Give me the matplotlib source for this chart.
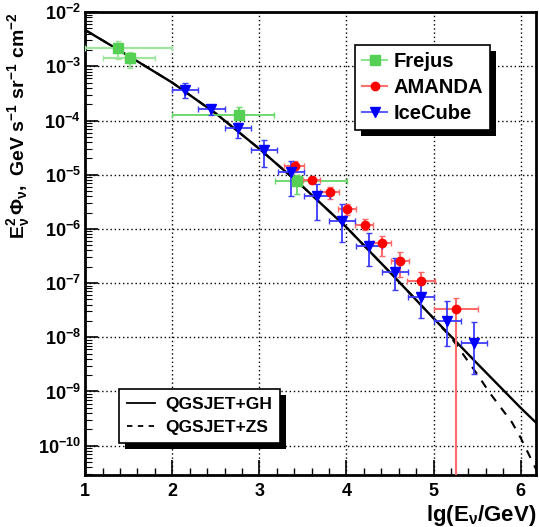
import matplotlib
matplotlib.use('Agg')
import matplotlib.pyplot as plt
from matplotlib.lines import Line2D
from matplotlib.patches import Rectangle
from matplotlib.transforms import IdentityTransform
from matplotlib.ticker import MultipleLocator, FixedLocator, FixedFormatter, LogLocator, NullFormatter
import numpy as np

# Frejus
frejus_x = [1.38, 1.51, 2.77, 3.43]
frejus_xlo = [1.00, 1.21, 2.00, 3.18]
frejus_xhi = [2.00, 1.80, 3.17, 4.01]
frejus_y = [2.19e-3, 1.45e-3, 1.29e-4, 7.6e-6]
frejus_ylo = [1.35e-3, 9.3e-4, 1.10e-4, 4.4e-6]
frejus_yhi = [2.88e-3, 1.82e-3, 1.78e-4, 9.8e-6]

# AMANDA
amanda_x = [3.41, 3.61, 3.81, 4.01, 4.21, 4.41, 4.61, 4.86, 5.26]
amanda_xlo = [3.28, 3.50, 3.70, 3.90, 4.10, 4.31, 4.51, 4.70, 5.00]
amanda_xhi = [3.51, 3.70, 3.91, 4.11, 4.31, 4.51, 4.72, 5.02, 5.51]
amanda_y = [1.45e-5, 8.1e-6, 4.8e-6, 2.3e-6, 1.2e-6, 5.6e-7, 2.6e-7, 1.1e-7, 3.3e-8]
amanda_ylo = [1.12e-5, 7.1e-6, 3.6e-6, 1.78e-6, 9.5e-7, 3.2e-7, 1.32e-7, 6.0e-8, 1e-14]
amanda_yhi = [1.78e-5, 9.1e-6, 5.9e-6, 2.9e-6, 1.51e-6, 7.4e-7, 3.7e-7, 1.58e-7, 5.4e-8]

# IceCube
icecube_x = [2.15, 2.45, 2.75, 3.05, 3.36, 3.66, 3.95, 4.26, 4.56, 4.86, 5.16, 5.46]
icecube_xerr = [0.15] * 12
icecube_y = [3.7e-4, 1.62e-4, 7.2e-5, 2.8e-5, 1.12e-5, 4.1e-6, 1.41e-6, 4.9e-7, 1.62e-7, 5.5e-8, 2.0e-8, 7.9e-9]
icecube_ylo = [2.57e-4, 1.26e-4, 4.7e-5, 1.41e-5, 4.1e-6, 1.45e-6, 5.8e-7, 2.1e-7, 7.4e-8, 2.3e-8, 6.9e-9, 2.1e-9]
icecube_yhi = [4.9e-4, 1.9e-4, 9.1e-5, 4.3e-5, 1.78e-5, 6.8e-6, 2.9e-6, 8.3e-7, 2.95e-7, 1.15e-7, 4.6e-8, 1.95e-8]

# models
gh_x = [1.0, 1.5, 2.0, 2.5, 3.0, 3.5, 4.0, 4.5, 5.0, 5.5, 6.0, 6.2]
gh_y = [4.68e-3, 1.55e-3, 5.0e-4, 1.35e-4, 3.0e-5, 6.0e-6, 1.07e-6, 1.58e-7, 2.24e-8, 3.3e-9, 5.0e-10, 2.45e-10]
zs_x = [1.0, 1.5, 2.0, 2.5, 3.0, 3.5, 4.0, 4.5, 5.0, 5.2, 5.35, 5.5, 5.65, 5.9, 6.0, 6.1, 6.2]
zs_y = [4.68e-3, 1.55e-3, 5.0e-4, 1.35e-4, 3.0e-5, 6.0e-6, 1.07e-6, 1.58e-7, 2.24e-8,
        1.0e-8, 4.6e-9, 2.1e-9, 9.2e-10, 2.7e-10, 1.4e-10, 6.6e-11, 3.1e-11]

ytick_vals = [1e-10, 1e-9, 1e-8, 1e-7, 1e-6, 1e-5, 1e-4, 1e-3, 1e-2]
ytick_labels = [r'$\mathbf{10^{-10}}$', r'$\mathbf{10^{-9}}$', r'$\mathbf{10^{-8}}$', r'$\mathbf{10^{-7}}$',
                r'$\mathbf{10^{-6}}$', r'$\mathbf{10^{-5}}$', r'$\mathbf{10^{-4}}$', r'$\mathbf{10^{-3}}$',
                r'$\mathbf{10^{-2}}$']

plt.rcParams['font.family'] = ['Liberation Sans', 'DejaVu Sans']
plt.rcParams['font.weight'] = 'bold'
plt.rcParams['mathtext.fontset'] = 'custom'
plt.rcParams['mathtext.rm'] = 'Liberation Sans:bold'
plt.rcParams['mathtext.bf'] = 'Liberation Sans:bold'
plt.rcParams['mathtext.it'] = 'Liberation Sans:bold:italic'


def asym(v, lo, hi):
	v = np.array(v)
	return [v - np.array(lo), np.array(hi) - v]


def main():
	fig = plt.figure(figsize=(5.39, 5.27), dpi=100)
	ax = fig.add_axes([0.158, 0.099, 0.837, 0.878])

	green = '#55d055'
	red = '#ff0000'
	blue = '#0000ff'

	# model lines
	ax.plot(zs_x, zs_y, color='k', lw=1.5, ls=(0, (4, 4)), zorder=3)
	ax.plot(gh_x, gh_y, color='k', lw=1.7, zorder=3)

	# Frejus (first two drawn lighter)
	fx = np.array(frejus_x)
	xe = asym(frejus_x, frejus_xlo, frejus_xhi)
	ye = asym(frejus_y, frejus_ylo, frejus_yhi)
	ax.errorbar(fx[:2], frejus_y[:2], xerr=[xe[0][:2], xe[1][:2]], yerr=[ye[0][:2], ye[1][:2]],
				fmt='s', color=green, ecolor='#9fe59f', ms=6.5, elinewidth=1.6, capsize=2, zorder=4)
	ax.errorbar(fx[2:], frejus_y[2:], xerr=[xe[0][2:], xe[1][2:]], yerr=[ye[0][2:], ye[1][2:]],
				fmt='s', color=green, ecolor='#66d866', ms=6.5, elinewidth=1.3, capsize=2, zorder=4)

	# AMANDA
	ax.errorbar(amanda_x, amanda_y, xerr=asym(amanda_x, amanda_xlo, amanda_xhi),
				yerr=asym(amanda_y, amanda_ylo, amanda_yhi),
				fmt='o', color=red, ecolor='#ff6a6a', ms=6, elinewidth=1.5, capsize=2, zorder=4)

	# IceCube
	ax.errorbar(icecube_x, icecube_y, xerr=icecube_xerr, yerr=asym(icecube_y, icecube_ylo, icecube_yhi),
				fmt='v', color=blue, ecolor='#3c3cff', ms=6.5, elinewidth=1.3, capsize=2, zorder=4)

	ax.set_yscale('log')
	ax.set_xlim(1, 6.18)
	ax.set_ylim(2.9e-11, 1e-2)

	ax.xaxis.set_major_locator(FixedLocator([1, 2, 3, 4, 5, 6]))
	ax.xaxis.set_minor_locator(MultipleLocator(0.2))
	ax.set_xticklabels(['1', '2', '3', '4', '5', '6'], fontsize=13, fontweight='bold')
	ax.yaxis.set_major_locator(FixedLocator(ytick_vals))
	ax.yaxis.set_major_formatter(FixedFormatter(ytick_labels))
	ax.yaxis.set_minor_locator(LogLocator(base=10, subs=np.arange(2, 10), numticks=30))
	ax.yaxis.set_minor_formatter(NullFormatter())
	ax.tick_params(axis='y', labelsize=13)

	ax.tick_params(which='both', direction='in', top=False, right=False, color='k')
	ax.tick_params(axis='x', which='major', length=11, width=1.2, pad=6)
	ax.tick_params(axis='x', which='minor', length=5, width=1.0)
	ax.tick_params(axis='y', which='major', length=9, width=1.2, pad=3)
	ax.tick_params(axis='y', which='minor', length=5, width=0.8)

	for s in ax.spines.values():
		s.set_linewidth(2)

	ax.grid(True, which='major', ls=(0, (1, 2)), color='k', lw=1.0)

	ax.set_xlabel(r'$\mathbf{lg(E_{\nu}/GeV)}$', fontsize=16, loc='right', labelpad=2)
	ax.set_ylabel(r'$\mathbf{E_{\nu}^{2}\,\Phi_{\nu},\ GeV\ s^{-1}\ sr^{-1}\ cm^{-2}}$', fontsize=14, loc='top')
	ax.yaxis.set_label_coords(-0.118, 1.0)

	# legends
	h1 = [Line2D([], [], color='#8fe48f', lw=1.5, marker='s', mfc=green, mec=green, ms=6.5),
		  Line2D([], [], color='#ff7070', lw=1.5, marker='o', mfc=red, mec=red, ms=6),
		  Line2D([], [], color='#6060ff', lw=1.5, marker='v', mfc=blue, mec=blue, ms=6.5)]
	leg1 = ax.legend(h1, ['Frejus', 'AMANDA', 'IceCube'], loc='upper left',
					 bbox_to_anchor=(355 / 539, 1 - 45 / 527), bbox_transform=fig.transFigure,
					 prop={'size': 14.5, 'weight': 'bold'}, frameon=True, fancybox=False,
					 edgecolor='k', framealpha=1, handlelength=1.25, handletextpad=0.3,
					 labelspacing=0.35, borderpad=0.35, borderaxespad=0)
	leg1.get_frame().set_linewidth(1.2)
	ax.add_artist(leg1)

	h2 = [Line2D([], [], color='k', lw=1.3),
		  Line2D([], [], color='k', lw=1.3, ls=(0, (3, 3)))]
	leg2 = ax.legend(h2, ['QGSJET+GH', 'QGSJET+ZS'], loc='upper left',
					 bbox_to_anchor=(119 / 539, 1 - 389 / 527), bbox_transform=fig.transFigure,
					 prop={'size': 12.5, 'weight': 'bold'}, frameon=True, fancybox=False,
					 edgecolor='k', framealpha=1, handlelength=1.6, handletextpad=0.6,
					 labelspacing=0.45, borderpad=0.45, borderaxespad=0)
	leg2.get_frame().set_linewidth(1.2)

	# ROOT style black drop shadows
	fig.canvas.draw()
	r = fig.canvas.get_renderer()
	for lg in (leg1, leg2):
		bb = lg.get_window_extent(r)
		sh = Rectangle((bb.x0 + 6, bb.y0 - 6), bb.width, bb.height, transform=IdentityTransform(),
					   facecolor='k', edgecolor='none', clip_on=False, zorder=4.9)
		ax.add_artist(sh)

	fig.savefig('out.png', dpi=100)


if __name__ == '__main__':
	main()
